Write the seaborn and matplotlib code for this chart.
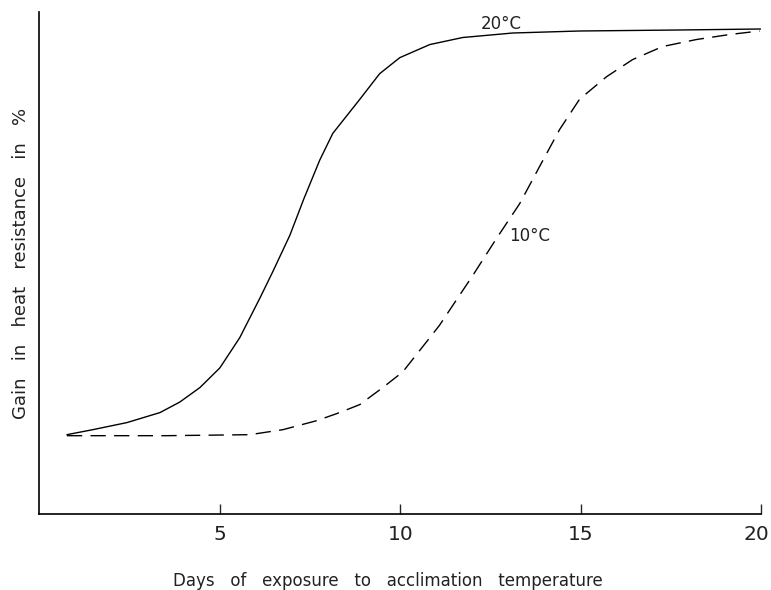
import matplotlib
matplotlib.use("Agg")
import matplotlib.pyplot as plt
import matplotlib.transforms as mtransforms
import seaborn as sns
import pandas as pd

# Data (days, gain in %)
days_20 = [0.76, 1.48, 2.42, 3.34, 3.89, 4.45, 5.00, 5.55, 6.11, 6.47, 6.94, 7.33, 7.77,
           8.13, 8.88, 9.43, 9.99, 10.82, 11.73, 13.12, 14.97, 17.74, 19.99]
gain_20 = [15.8, 16.8, 18.2, 20.2, 22.3, 25.2, 29.1, 35.1, 43.0, 48.3, 55.5, 62.8, 70.5,
           75.8, 82.6, 87.7, 90.9, 93.5, 94.9, 95.8, 96.2, 96.4, 96.6]

days_10 = [0.76, 3.53, 5.83, 6.75, 7.69, 8.32, 8.88, 9.52, 10.07, 10.73, 11.09, 12.01,
           12.67, 13.31, 13.87, 14.42, 14.97, 15.72, 16.44, 17.27, 18.21, 19.13, 19.96]
gain_10 = [15.6, 15.6, 15.8, 16.8, 18.6, 20.2, 21.8, 25.2, 28.3, 34.3, 37.6, 47.5,
           54.9, 61.8, 69.3, 76.6, 82.6, 87.1, 90.5, 93.1, 94.5, 95.5, 96.2]

x_ticks = [5, 10, 15, 20]
x_ticklabels = ["5", "10", "15", "20"]
label_20 = "20°C"
label_10 = "10°C"

sns.set_theme(style="ticks")
plt.rcParams['font.family'] = ['DejaVu Sans']

fig = plt.figure(figsize=(7.71, 5.90), dpi=100)
ax = fig.add_axes([0.0512, 0.1288, 0.9358, 0.851])

df20 = pd.DataFrame({"day": days_20, "gain": gain_20})
df10 = pd.DataFrame({"day": days_10, "gain": gain_10})

sns.lineplot(data=df20, x="day", y="gain", ax=ax, color="black", lw=1.0,
             solid_joinstyle="round")
sns.lineplot(data=df10, x="day", y="gain", ax=ax, color="black", lw=1.0,
             linestyle=(0, (11, 6)), dash_joinstyle="round")

ax.set_xlim(0, 20)
ax.set_ylim(0, 100)
ax.set_xticks(x_ticks)
ax.set_xticklabels(x_ticklabels, fontsize=14.5, color="#222222")
ax.set_yticks([])
ax.tick_params(axis="x", direction="in", length=7, width=1, pad=8)
# nudge the last tick label left so it stays inside the figure
last = ax.get_xticklabels()[-1]
last.set_transform(last.get_transform() +
                   mtransforms.ScaledTranslation(-5 / 100, 0, fig.dpi_scale_trans))
sns.despine(ax=ax)
for s in ["left", "bottom"]:
    ax.spines[s].set_linewidth(1.2)
    ax.spines[s].set_color("black")

ax.set_xlabel("Days   of   exposure   to   acclimation   temperature", fontsize=12,
              labelpad=15, color="#222222")
ax.xaxis.set_label_coords(0.483, -0.115)
ax.set_ylabel("Gain   in   heat   resistance   in   %", fontsize=13, labelpad=7,
              color="#222222")

ax.text(12.8, 97.6, label_20, fontsize=12, ha="center", va="center", color="#222222")
ax.text(13.6, 55.4, label_10, fontsize=12, ha="center", va="center", color="#222222")

fig.savefig("out.png", dpi=100, facecolor="white")
